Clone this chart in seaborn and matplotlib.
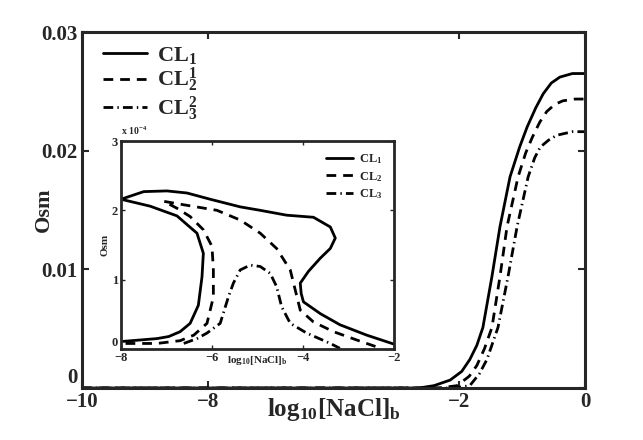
import matplotlib
matplotlib.use("Agg")
import matplotlib.pyplot as plt
import seaborn as sns

# main plot: Osm vs log10[NaCl]_b
cl1_x = [-10, -3.3, -3.0, -2.68, -2.45, -2.29, -2.15, -2.03, -1.85, -1.69, -1.49, -1.3, -1.15,
         -0.98, -0.83, -0.67, -0.5, -0.25, 0]
cl1_y = [0, 0, 0.0002, 0.00067, 0.0014, 0.0024, 0.0036, 0.0051, 0.0094, 0.0136, 0.0178, 0.0203, 0.022,
         0.0236, 0.0248, 0.0257, 0.0262, 0.0265, 0.0265]
cl2_x = [-10, -2.9, -2.54, -2.3, -2.15, -2.0, -1.85, -1.69, -1.55, -1.33, -1.18, -1.05,
         -0.9, -0.76, -0.6, -0.44, -0.2, 0]
cl2_y = [0, 0, 0.0002, 0.0010, 0.0019, 0.0033, 0.0051, 0.0094, 0.0136, 0.0178, 0.0198, 0.0211,
         0.0224, 0.0233, 0.0239, 0.0242, 0.02435, 0.02435]
cl3_x = [-10, -2.6, -2.29, -2.1, -1.95, -1.73, -1.53, -1.35, -1.13, -1.0, -0.89, -0.72,
         -0.56, -0.25, 0]
cl3_y = [0, 0, 0.0002, 0.0012, 0.0024, 0.0051, 0.0094, 0.0136, 0.0178, 0.0194, 0.0203, 0.0209,
         0.0213, 0.0216, 0.0216]
main_labels = [r"$\mathrm{CL}_1$", r"$\mathrm{CL}_2^1$", r"$\mathrm{CL}_3^2$"]
main_xticks = [-10, -7.5, -2.5, 0]
main_xticklabels = ["\u221210", "\u22128", "\u22122", "0"]
main_yticks = [0, 0.01, 0.02, 0.03]
main_yticklabels = ["0", "0.01", "0.02", "0.03"]

# inset: Osm in units of 1e-4
in1_x = [-7.95, -7.21, -6.95, -6.70, -6.48, -6.30, -6.22, -6.19, -6.33, -6.77, -7.36, -8.0,
         -7.5, -6.99, -6.55, -6.04, -5.38, -4.94, -4.36, -3.77, -3.40, -3.29, -3.40, -3.62,
         -3.88, -4.06, -4.04, -3.99, -3.62, -3.19, -2.60, -2.0]
in1_y = [0.11, 0.15, 0.18, 0.25, 0.37, 0.63, 1.04, 1.38, 1.67, 1.92, 2.06, 2.16,
         2.27, 2.28, 2.25, 2.16, 2.05, 2.0, 1.93, 1.90, 1.76, 1.60, 1.45, 1.31,
         1.12, 0.95, 0.80, 0.68, 0.51, 0.35, 0.20, 0.07]
in2_x = [-7.90, -7.21, -6.70, -6.40, -6.11, -5.97, -5.97, -6.00, -6.19, -6.48, -6.77, -7.06,
         -6.62, -5.89, -5.38, -4.94, -4.58, -4.28, -4.17, -4.06, -3.77, -3.33, -2.82, -2.38]
in2_y = [0.08, 0.08, 0.12, 0.20, 0.37, 0.75, 1.14, 1.48, 1.72, 1.91, 2.03, 2.13,
         2.08, 2.00, 1.86, 1.67, 1.45, 1.14, 0.85, 0.56, 0.39, 0.25, 0.13, 0.03]
in3_x = [-6.62, -6.33, -6.11, -5.82, -5.64, -5.53, -5.38, -5.16, -4.94, -4.72, -4.58, -4.47,
         -4.28, -3.92, -3.40, -3.19]
in3_y = [0.08, 0.15, 0.23, 0.37, 0.75, 0.95, 1.14, 1.21, 1.19, 1.09, 0.90, 0.61,
         0.37, 0.23, 0.08, 0.01]
inset_labels = [r"$\mathrm{CL}_1$", r"$\mathrm{CL}_2$", r"$\mathrm{CL}_3$"]
inset_xticks = [-8, -6, -4, -2]
inset_yticks = [0, 1, 2, 3]

sns.set_style("ticks")
plt.rcParams["font.family"] = ["Liberation Serif", "DejaVu Serif"]
plt.rcParams["font.weight"] = "bold"
plt.rcParams["mathtext.fontset"] = "custom"
plt.rcParams["mathtext.rm"] = "Liberation Serif:bold"
plt.rcParams["mathtext.it"] = "Liberation Serif:bold"
plt.rcParams["mathtext.bf"] = "Liberation Serif:bold"
plt.rcParams["axes.unicode_minus"] = True

fig = plt.figure(figsize=(6.43, 4.40), dpi=100)
ax = fig.add_axes([82 / 643, 52 / 440, 503 / 643, 356 / 440])

styles = ["-", (0, (3.5, 2.5)), (0, (3.5, 1.5, 0.5, 1.5))]
for xs, ys, lab, ls in zip([cl1_x, cl2_x, cl3_x], [cl1_y, cl2_y, cl3_y], main_labels, styles):
    sns.lineplot(x=xs, y=ys, ax=ax, color="k", linewidth=2, linestyle=ls,
                 sort=False, estimator=None, label=lab)

ax.set_xlim(-10, 0)
ax.set_ylim(0, 0.03)
ax.set_xticks(main_xticks)
ax.set_xticklabels(main_xticklabels)
ax.set_yticks(main_yticks)
ax.set_yticklabels(main_yticklabels)
ax.tick_params(direction="in", top=True, right=True, length=5, width=1.5,
               labelsize=15, pad=3)
ax.get_yticklabels()[0].set_va("bottom")
for sp in ax.spines.values():
    sp.set_linewidth(2.2)
ax.set_ylabel("Osm", fontsize=16, fontweight="bold")
ax.yaxis.set_label_coords(-0.056, 0.5)
ax.set_xlabel(r"$\mathrm{log}_{10}\mathrm{[NaCl]}_\mathrm{b}$", fontsize=18, va="top")
ax.xaxis.set_label_coords(0.5, -0.022)
ax.legend(loc="upper left", frameon=False, fontsize=16, handlelength=2.0,
          labelspacing=0.0, borderaxespad=0.3, handletextpad=0.45,
          bbox_to_anchor=(0.01, 1.008))

# inset
axi = fig.add_axes([121 / 643, 91 / 440, 273 / 643, 208 / 440])
for xs, ys, lab, ls in zip([in1_x, in2_x, in3_x], [in1_y, in2_y, in3_y], inset_labels, styles):
    sns.lineplot(x=xs, y=ys, ax=axi, color="k", linewidth=2, linestyle=ls,
                 sort=False, estimator=None, label=lab)
axi.set_xlim(-8, -2)
axi.set_ylim(0, 3)
axi.set_xticks(inset_xticks)
axi.set_xticklabels(["\u22128", "\u22126", "\u22124", "\u22122"])
axi.set_yticks(inset_yticks)
axi.tick_params(direction="in", top=True, right=True, length=3, width=1,
                labelsize=9, pad=2)
axi.get_yticklabels()[0].set_va("bottom")
for sp in axi.spines.values():
    sp.set_linewidth(2)
axi.set_ylabel("Osm", fontsize=8, fontweight="bold", labelpad=2)
axi.set_xlabel(r"$\mathrm{log}_{10}\mathrm{[NaCl]}_\mathrm{b}$", fontsize=8, va="top")
axi.xaxis.set_label_coords(0.5, -0.025)
axi.text(0.0, 1.02, r"x 10$^{-4}$", transform=axi.transAxes, fontsize=7,
         ha="left", va="bottom")
axi.legend(loc="upper right", frameon=False, fontsize=9, handlelength=2.2,
           labelspacing=0.3, borderaxespad=0.5, handletextpad=0.5)

fig.savefig("out.png", dpi=100)
